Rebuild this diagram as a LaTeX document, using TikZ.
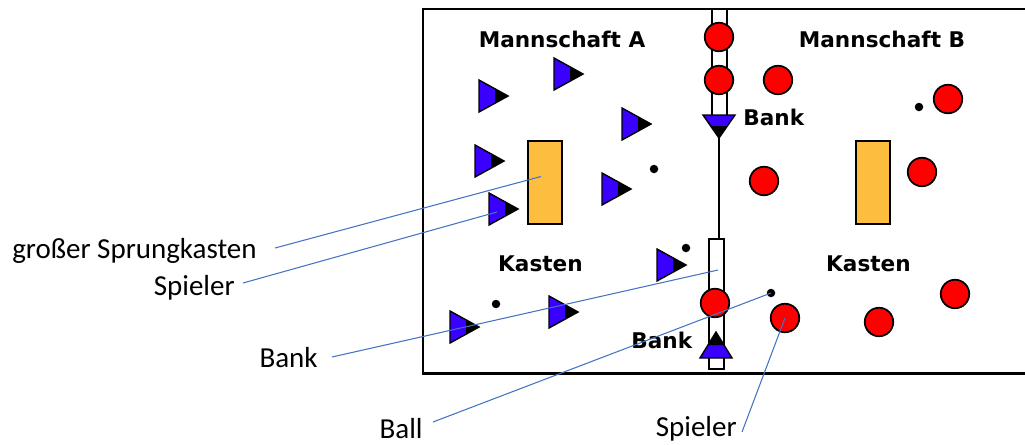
\documentclass[tikz,border=0pt]{standalone}
\usepackage{fontspec}
\setmainfont{Carlito}
\newfontfamily\feldfont{DejaVu Sans}
\usetikzlibrary{calc}
\definecolor{teamA}{RGB}{58,0,255}
\definecolor{teamB}{RGB}{255,0,0}
\definecolor{kastengelb}{RGB}{253,190,64}
\definecolor{zeigerblau}{RGB}{68,114,196}
\tikzset{
  spielerB/.style={circle,draw=black,line width=1pt,fill=teamB,minimum width=0.54cm,minimum height=0.57cm,inner sep=0pt},
  ball/.style={circle,fill=black,minimum size=0.17cm,inner sep=0pt},
  sprungkasten/.style={draw=black,line width=1.1pt,fill=kastengelb,inner sep=0pt,minimum width=0.68cm,minimum height=1.66cm},
  bankbox/.style={draw=black,line width=1.1pt,fill=white,inner sep=0pt,minimum width=0.3cm},
  feldtext/.style={font=\feldfont\bfseries\fontsize{12.3}{14}\selectfont,inner sep=0pt},
  beschr/.style={font=\fontsize{16.5}{19}\selectfont,inner sep=0pt},
  zeiger/.style={zeigerblau,line width=0.6pt}
}
\begin{document}
\begin{tikzpicture}[x=0.02cm,y=-0.02cm]
    \useasboundingbox (0,0) rectangle (1025,444);
    \draw [line width=1.7pt] (1025,9) -- (423,9) -- (423,373) -- (1025,373);% Halle, rechts offen
    % Baenke in der Mitte
    \node[bankbox,minimum height=2.18cm] (bankO) at (719.5,63.5) {};
    \draw [line width=1.2pt] (719,136) -- (719,239);% Mittellinie
    \node[bankbox,minimum height=2.6cm] (bankU) at (716.5,304) {};
    \fill[teamA] (703,115) -- (735,115) -- (719,138) -- cycle;
    \fill[black] (711.5,126) -- (726.5,126) -- (719,138) -- cycle;
    \draw[line width=0.8pt] (703,115) -- (735,115) -- (719,138) -- cycle;
    \fill[teamA] (700,358) -- (732,358) -- (716,332) -- cycle;
    \fill[black] (708,345) -- (724,345) -- (716,332) -- cycle;
    \draw[line width=0.8pt] (700,358) -- (732,358) -- (716,332) -- cycle;
    % Sprungkaesten
    \node[sprungkasten] (kastenL) at (545,182.5) {};
    \node[sprungkasten] (kastenR) at (873,182.5) {};
    % Mannschaft A
    \foreach \x/\y in {493/96,568/74,636/124,489/161,616/189,503/209,671/265,464/327,563/312}{% Spieler als Dreiecke
      \begin{scope}[shift={(\x,\y)}]
        \fill[teamA] (-14,-16) -- (15,0) -- (-14,16) -- cycle;
        \fill[black] (2,-7.5) -- (15,0) -- (2,7.5) -- cycle;
        \draw[line width=0.8pt] (-14,-16) -- (15,0) -- (-14,16) -- cycle;
      \end{scope}}
    % Mannschaft B
    \foreach \x/\y [count=\i] in {719/37,719/80,778/80,948/99,764/181,922/172,715/303,785/318,879/322,955/294}{
      \node[spielerB] (sB\i) at (\x,\y) {};}
    % Baelle
    \foreach \x/\y [count=\i] in {654/169,686/248,496/304,771/293,919/107}{
      \node[ball] (ball\i) at (\x,\y) {};}
    \node[feldtext,anchor=base] (mA) at (562,47) {Mannschaft A};
    \node[feldtext,anchor=base] (mB) at (882,47) {Mannschaft B};
    \node[feldtext,anchor=base west] (bankOtext) at (743,125) {Bank};
    \node[feldtext,anchor=base west] (bankUtext) at (631,348) {Bank};
    \node[feldtext,anchor=base] (kL) at (540.5,271) {Kasten};
    \node[feldtext,anchor=base] (kR) at (868.5,271) {Kasten};
    % Beschriftung
    \node[beschr,anchor=base east] (lKasten) at (257,258) {großer Sprungkasten};
    \node[beschr,anchor=base east] (lSpielerA) at (235,295) {Spieler};
    \node[beschr,anchor=base east] (lBank) at (318,367) {Bank};
    \node[beschr,anchor=base east] (lBall) at (423,438) {Ball};
    \node[beschr,anchor=base east] (lSpielerB) at (737,436) {Spieler};
    \coordinate (zielA) at (497,212);
    \coordinate (zielBank) at (718,270);
    \draw[zeiger] ($(lKasten.base east)+(18,-10)$) -- ($(kastenL.center)+(-4,-6)$);
    \draw[zeiger] ($(lSpielerA.base east)+(8,-12)$) -- (zielA);
    \draw[zeiger] ($(lBank.base east)+(14,-10)$) -- (zielBank);
    \draw[zeiger] ($(lBall.base east)+(10,-16)$) -- (ball4.center);
    \draw[zeiger] ($(lSpielerB.base east)+(5,-4)$) -- (sB8.center);
\end{tikzpicture}
\end{document}
